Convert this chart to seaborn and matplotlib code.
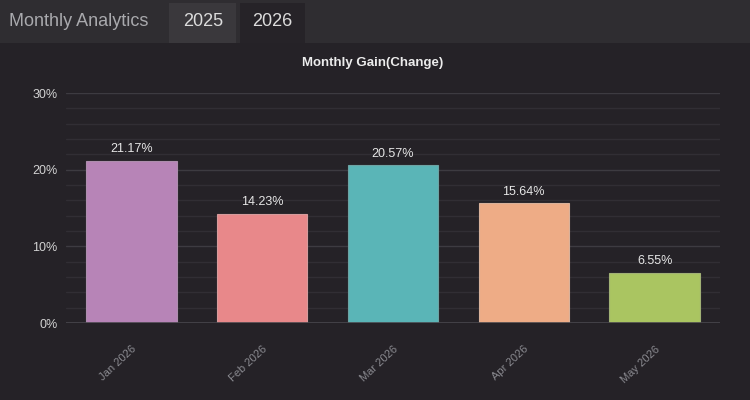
import pandas as pd
import matplotlib
matplotlib.use("Agg")
import matplotlib.pyplot as plt
import matplotlib.patches as mpatches
from matplotlib.ticker import MultipleLocator, FuncFormatter
import seaborn as sns

# Datos
months = ["Jan 2026", "Feb 2026", "Mar 2026", "Apr 2026", "May 2026"]
gains = [21.17, 14.23, 20.57, 15.64, 6.55]
bar_colors = ["#b784b7", "#e8888a", "#5ab5b7", "#eeac86", "#aac561"]
tabs = ["2025", "2026"]

bg = "#252227"
sns.set_style("dark")
plt.rcParams["font.family"] = ["Liberation Sans", "DejaVu Sans"]

df = pd.DataFrame({"month": months, "gain": gains})

fig = plt.figure(figsize=(7.5, 4), dpi=100, facecolor=bg)
ax = fig.add_axes([0.088, 0.1925, 0.872, 0.575])
ax.set_facecolor(bg)

sns.barplot(data=df, x="month", y="gain", hue="month", palette=bar_colors,
            width=0.69, saturation=1, legend=False, ax=ax, zorder=3)

for p, c in zip(ax.patches, bar_colors):
    p.set_edgecolor(sns.desaturate(c, 0.6))
    p.set_linewidth(0.8)

for cont in ax.containers:
    ax.bar_label(cont, fmt="%.2f%%", padding=4, color="#e6e6e6", fontsize=9)

ax.set_ylim(0, 30)
ax.yaxis.set_major_locator(MultipleLocator(10))
ax.yaxis.set_minor_locator(MultipleLocator(2))
ax.yaxis.set_major_formatter(FuncFormatter(lambda v, _: f"{v:.0f}%"))
ax.grid(axis="y", which="major", color="#3d3b41", linewidth=1, zorder=0)
ax.grid(axis="y", which="minor", color="#312e34", linewidth=1, zorder=0)
ax.grid(axis="x", visible=False)
ax.axhline(0, color="#48464c", linewidth=1.2, zorder=4)

ax.tick_params(axis="y", which="both", length=0, colors="#d2d2d2", labelsize=9, pad=6)
ax.tick_params(axis="x", length=0, colors="#8a8a90", labelsize=8, pad=15)
plt.setp(ax.get_xticklabels(), rotation=43, ha="right", rotation_mode="anchor")
ax.set_xlabel("")
ax.set_ylabel("")
for s in ax.spines.values():
    s.set_visible(False)

fig.text(0.497, 0.842, "Monthly Gain(Change)", ha="center", va="center",
         fontsize=9.5, fontweight="bold", color="#ececec")

# Cabecera con pestañas
fig.patches.append(mpatches.Rectangle((0, 1 - 43 / 400), 1, 43 / 400, transform=fig.transFigure,
                                      facecolor="#2f2d31", edgecolor="none", zorder=0))
fig.patches.append(mpatches.Rectangle((169 / 750, 1 - 43 / 400), 67 / 750, 40 / 400,
                                      transform=fig.transFigure, facecolor="#3a383c",
                                      edgecolor="none", zorder=1))
fig.patches.append(mpatches.Rectangle((240 / 750, 1 - 43 / 400), 65 / 750, 40 / 400,
                                      transform=fig.transFigure, facecolor="#262328",
                                      edgecolor="none", zorder=1))
fig.text(9 / 750, 1 - 22 / 400, "Monthly Analytics", ha="left", va="center",
         fontsize=13, color="#a9a9ad")
for t, cx in zip(tabs, [203, 272]):
    fig.text(cx / 750, 1 - 22 / 400, t, ha="center", va="center", fontsize=13, color="#dcdcdc")

fig.savefig("out.png", dpi=100, facecolor=bg)
